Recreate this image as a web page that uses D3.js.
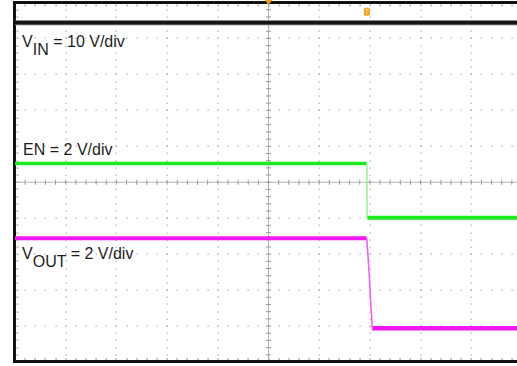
<!DOCTYPE html>
<html>
<head>
<meta charset="utf-8">
<script src="https://cdn.jsdelivr.net/npm/d3@7"></script>
<style>
  body { margin: 0; background: #fff; }
  svg { display: block; }
  text { font-family: "Liberation Sans", Arial, sans-serif; font-size: 16px; fill: #1e1e1e; }
</style>
</head>
<body>
<div id="vis"></div>
<script>
// traces, x in time divisions (0..10), y in divisions from screen centre (-5..5)
var vin  = [[0, 4.44], [10, 4.44]];
var enHigh = [[0, 0.52], [6.935, 0.52]];
var enEdge = [[6.94, 0.52], [6.945, -0.99]];
var enLow  = [[6.95, -0.99], [10, -0.99]];
var voutHigh = [[0, -1.56], [6.935, -1.56]];
var voutEdge = [[6.937, -1.56], [6.982, -2.44], [7.016, -3.36], [7.051, -4.11], [7.07, -4.08]];
var voutLow  = [[7.06, -4.06], [10, -4.06]];

var labels = [
  {main: "V", sub: "IN", rest: " = 10 V/div", x: 0.14, y: 3.77},
  {main: "EN = 2 V/div", sub: "", rest: "", x: 0.16, y: 0.76},
  {main: "V", sub: "OUT", rest: " = 2 V/div", x: 0.14, y: -2.13}
];
var trigTime = 6.94;
var trigLevel = 4.76;

var W = 517, H = 366;
var margin = {top: 2.5, left: 15, bottom: 4, right: 0};
var plotW = 507, plotH = 359.5;

var x = d3.scaleLinear().domain([0, 10]).range([margin.left, margin.left + plotW]);
var y = d3.scaleLinear().domain([-5, 5]).range([margin.top + plotH, margin.top]);

var svg = d3.select("#vis").append("svg")
  .attr("width", W).attr("height", H);

var minorX = d3.range(0, 10.001, 0.2);
var minorY = d3.range(-5, 5.001, 0.2);
var majorX = d3.range(1, 10, 1).filter(function (d) { return d !== 5; });
var majorY = d3.range(-4, 5, 1).filter(function (d) { return d !== 0; });

var grid = svg.append("g");

// dotted vertical grid lines
majorX.forEach(function (gx) {
  grid.selectAll(null).data(minorY).enter().append("rect")
    .attr("x", Math.round(x(gx)) - 0.5).attr("y", function (d) { return Math.round(y(d)) - 0.5; })
    .attr("width", 1.2).attr("height", 1.2).attr("fill", "#a0a0a0");
});
// dotted horizontal grid lines
majorY.forEach(function (gy) {
  grid.selectAll(null).data(minorX).enter().append("rect")
    .attr("x", function (d) { return Math.round(x(d)) - 0.5; }).attr("y", Math.round(y(gy)) - 0.5)
    .attr("width", 1.2).attr("height", 1.2).attr("fill", "#a0a0a0");
});

// centre crosshair with ticks
grid.append("line")
  .attr("x1", x(0)).attr("x2", x(10)).attr("y1", y(0)).attr("y2", y(0))
  .attr("stroke", "#b4b4b4").attr("stroke-width", 1);
grid.append("line")
  .attr("x1", x(5)).attr("x2", x(5)).attr("y1", y(-5)).attr("y2", y(5))
  .attr("stroke", "#b4b4b4").attr("stroke-width", 1);
grid.selectAll(".tx").data(minorX).enter().append("line")
  .attr("x1", function (d) { return x(d); }).attr("x2", function (d) { return x(d); })
  .attr("y1", y(0) - 2.5).attr("y2", y(0) + 2.5)
  .attr("stroke", "#999").attr("stroke-width", 1);
grid.selectAll(".ty").data(minorY).enter().append("line")
  .attr("x1", x(5) - 2.5).attr("x2", x(5) + 2.5)
  .attr("y1", function (d) { return y(d); }).attr("y2", function (d) { return y(d); })
  .attr("stroke", "#999").attr("stroke-width", 1);

// border ticks
grid.selectAll(".bt").data(minorX).enter().append("rect")
  .attr("x", function (d) { return Math.round(x(d)) - 0.5; }).attr("y", y(5) + 2)
  .attr("width", 1.2).attr("height", 2).attr("fill", "#a0a0a0");
grid.selectAll(".bb").data(minorX).enter().append("rect")
  .attr("x", function (d) { return Math.round(x(d)) - 0.5; }).attr("y", y(-5) - 4)
  .attr("width", 1.2).attr("height", 2).attr("fill", "#a0a0a0");
grid.selectAll(".bl").data(minorY).enter().append("rect")
  .attr("x", x(0) + 1.5).attr("y", function (d) { return Math.round(y(d)) - 0.5; })
  .attr("width", 2).attr("height", 1.2).attr("fill", "#a0a0a0");

// frame
svg.append("line").attr("x1", 13).attr("x2", W).attr("y1", 2.5).attr("y2", 2.5)
  .attr("stroke", "#111").attr("stroke-width", 3);
svg.append("line").attr("x1", 13).attr("x2", W).attr("y1", 361.5).attr("y2", 361.5)
  .attr("stroke", "#111").attr("stroke-width", 3);
svg.append("line").attr("x1", 14.5).attr("x2", 14.5).attr("y1", 1).attr("y2", 363)
  .attr("stroke", "#111").attr("stroke-width", 3);

var line = d3.line().x(function (d) { return x(d[0]); }).y(function (d) { return y(d[1]); });

function trace(data, colour, w) {
  svg.append("path").datum(data).attr("d", line)
    .attr("fill", "none").attr("stroke", colour).attr("stroke-width", w)
    .attr("stroke-linejoin", "round");
}

trace(vin, "#666", 5);
trace(vin, "#141414", 3.2);
trace(enHigh, "#1ee81e", 3.6);
trace(enEdge, "#8af08a", 1.3);
trace(enLow, "#1ee81e", 4);
trace(voutHigh, "#f318f3", 4);
trace(voutEdge, "#f060f0", 1.6);
trace(voutLow, "#f318f3", 4.4);

// labels
labels.forEach(function (l) {
  var t = svg.append("text").attr("x", x(l.x)).attr("y", y(l.y));
  t.append("tspan").text(l.main);
  if (l.sub) {
    t.append("tspan").attr("dy", 8).text(l.sub);
    t.append("tspan").attr("dy", -8).text(l.rest);
  }
});

// trigger markers
svg.append("path")
  .attr("d", "M" + (x(5) - 3.5) + ",0 L" + (x(5) + 3.5) + ",0 L" + x(5) + ",5 Z")
  .attr("fill", "#f39a1e");
var tx = x(trigTime), ty = y(trigLevel);
svg.append("rect").attr("x", tx - 3).attr("y", ty - 3.5).attr("width", 6).attr("height", 8)
  .attr("rx", 1.5).attr("fill", "#f5a02a");
svg.append("path")
  .attr("d", "M" + (tx - 1.5) + "," + (ty - 1.5) + " L" + (tx + 1.5) + "," + (ty - 1.5) +
    " M" + tx + "," + (ty - 1.5) + " L" + tx + "," + (ty + 3))
  .attr("stroke", "#fbd38a").attr("stroke-width", 1);
</script>
</body>
</html>
